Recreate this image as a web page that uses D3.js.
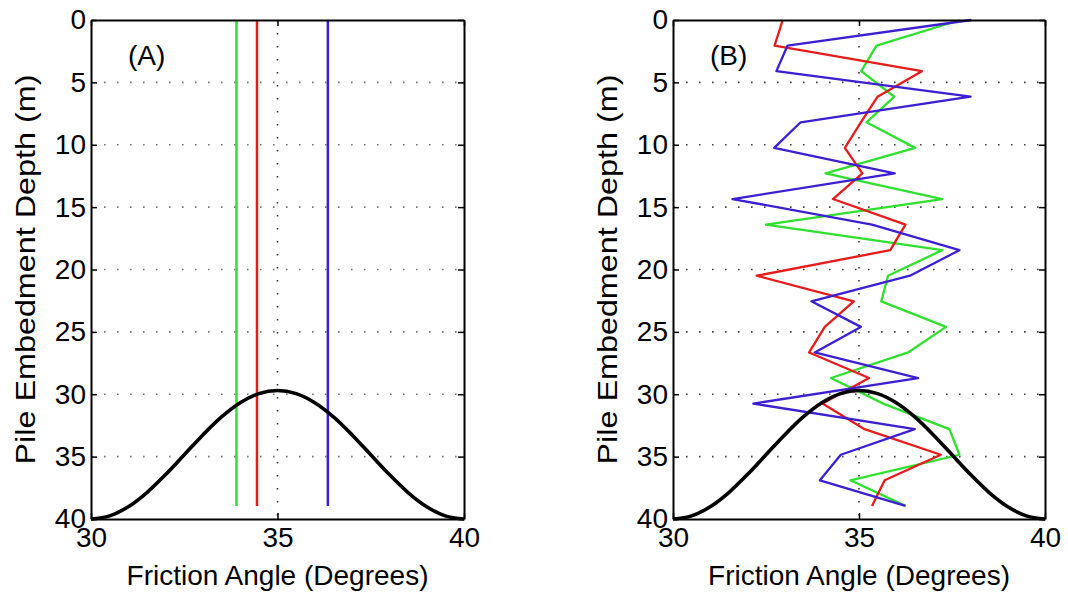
<!DOCTYPE html>
<html>
<head>
<meta charset="utf-8">
<script src="https://cdn.jsdelivr.net/npm/d3@7"></script>
<style>
  html, body { margin: 0; padding: 0; background: #fff; }
  svg { display: block; }
  text { font-family: "Liberation Sans", Arial, Helvetica, sans-serif; fill: #000; }
</style>
</head>
<body>
<svg id="chart" width="1068" height="601"></svg>
<script>
// ---------------- DATA ----------------
const xTicks = [30, 35, 40];
const yTicks = [0, 5, 10, 15, 20, 25, 30, 35, 40];
const xLabel = "Friction Angle (Degrees)";
const yLabel = "Pile Embedment Depth (m)";
const panelLabels = ["(A)", "(B)"];

// Panel A: constant friction angle profiles (vertical lines)
const constDepth = [0, 38.95];
const constGreen = 33.9;
const constRed = 34.45;
const constBlue = 36.35;

// Panel B: random-field profiles
const depthB = [0, 2.05, 4.1, 6.15, 8.2, 10.25, 12.3, 14.35, 16.4, 18.45,
                20.5, 22.55, 24.6, 26.65, 28.7, 30.75, 32.8, 34.85, 36.9, 38.95];
const redB   = [32.95, 32.73, 36.69, 35.5, 35.05, 34.62, 35.09, 34.3, 36.25, 35.84,
                32.25, 34.86, 34.08, 33.66, 35.27, 34.02, 35.15, 37.2, 35.69, 35.35];
const blueB  = [38.02, 33.08, 32.78, 38.0, 33.43, 32.72, 35.96, 31.6, 35.35, 37.7,
                36.37, 33.72, 35.05, 33.81, 36.59, 32.16, 36.5, 34.51, 33.95, 36.25];
const greenB = [37.72, 35.47, 35.06, 35.95, 35.2, 36.51, 34.1, 37.24, 32.5, 37.24,
                35.78, 35.6, 37.34, 36.32, 34.25, 35.65, 37.43, 37.7, 34.77, 36.25];

// Distribution curve (black), angle vs plotted depth
const pdfAngle = [30, 30.5, 31, 31.5, 32, 32.5, 33, 33.5, 34, 34.5, 35,
                  35.5, 36, 36.5, 37, 37.5, 38, 38.5, 39, 39.5, 40];
const pdfDepth = [40, 39.75, 39.02, 37.88, 36.44, 34.85, 33.26, 31.82, 30.68, 29.95, 29.7,
                  29.95, 30.68, 31.82, 33.26, 34.85, 36.44, 37.88, 39.02, 39.75, 40];

// ---------------- STYLE / LAYOUT ----------------
const COLORS = { green: "#2fe02f", red: "#e51c1c", blue: "#3d1fd1" };
const yTop = 20, yBottom = 519;
const panels = [
  { x0: 91, x1: 464, label: panelLabels[0] },
  { x0: 673, x1: 1045, label: panelLabels[1] }
];
const FS = 28;

const svg = d3.select("#chart");

panels.forEach((p, idx) => {
  const x = d3.scaleLinear().domain([30, 40]).range([p.x0, p.x1]);
  const y = d3.scaleLinear().domain([0, 40]).range([yTop, yBottom]);
  const g = svg.append("g");

  // grid
  const gridStroke = idx === 0 ? "#777" : "#444";
  g.append("g").selectAll("line").data(yTicks.filter(t => t > 0 && t < 40)).join("line")
    .attr("x1", p.x0).attr("x2", p.x1)
    .attr("y1", d => y(d)).attr("y2", d => y(d))
    .attr("stroke", gridStroke).attr("stroke-width", 1.6)
    .attr("stroke-dasharray", "1.6,11.4");
  g.append("g").selectAll("line").data(xTicks.filter(t => t > 30 && t < 40)).join("line")
    .attr("x1", d => x(d)).attr("x2", d => x(d))
    .attr("y1", yTop).attr("y2", yBottom)
    .attr("stroke", "#333").attr("stroke-width", 1.6)
    .attr("stroke-dasharray", "1.6,11.4");

  const line = d3.line().x(d => x(d[0])).y(d => y(d[1]));

  if (idx === 0) {
    [[constGreen, COLORS.green], [constRed, COLORS.red], [constBlue, COLORS.blue]].forEach(([v, c]) => {
      g.append("path")
        .attr("d", line(constDepth.map(dd => [v, dd])))
        .attr("fill", "none").attr("stroke", c).attr("stroke-width", 2.5);
    });
  } else {
    [[greenB, COLORS.green], [redB, COLORS.red], [blueB, COLORS.blue]].forEach(([vals, c]) => {
      g.append("path")
        .attr("d", line(vals.map((v, i) => [v, depthB[i]])))
        .attr("fill", "none").attr("stroke", c).attr("stroke-width", 2.3)
        .attr("stroke-linejoin", "round");
    });
  }

  // black distribution curve
  const curve = d3.line().x(d => x(d[0])).y(d => y(d[1])).curve(d3.curveMonotoneX);
  g.append("path")
    .attr("d", curve(pdfAngle.map((a, i) => [a, pdfDepth[i]])))
    .attr("fill", "none").attr("stroke", "#000").attr("stroke-width", 3.6);

  // axes (MATLAB-like inward ticks)
  const axL = g.append("g").attr("transform", `translate(${p.x0},0)`)
    .call(d3.axisLeft(y).tickValues(yTicks).tickSize(-6).tickSizeOuter(0).tickPadding(5));
  const axR = g.append("g").attr("transform", `translate(${p.x1},0)`)
    .call(d3.axisRight(y).tickValues(yTicks).tickSize(-6).tickSizeOuter(0).tickFormat(""));
  const axB = g.append("g").attr("transform", `translate(0,${yBottom})`)
    .call(d3.axisBottom(x).tickValues(xTicks).tickSize(-6).tickSizeOuter(0).tickPadding(8));
  const axT = g.append("g").attr("transform", `translate(0,${yTop})`)
    .call(d3.axisTop(x).tickValues(xTicks).tickSize(-6).tickSizeOuter(0).tickFormat(""));
  [axL, axR, axB, axT].forEach(a => {
    a.attr("font-family", null).attr("font-size", null);
    a.selectAll("path.domain").attr("stroke", "#000").attr("stroke-width", 2);
    a.selectAll(".tick line").attr("stroke", "#000").attr("stroke-width", 1.5);
    a.selectAll("text").style("font-size", FS + "px").attr("fill", "#000");
  });

  // axis titles
  const cx = (p.x0 + p.x1) / 2;
  g.append("text").attr("x", cx).attr("y", 585)
    .attr("text-anchor", "middle").style("font-size", FS + "px").text(xLabel);
  g.append("text")
    .attr("transform", `translate(${p.x0 - 56},${(yTop + yBottom) / 2}) rotate(-90)`)
    .attr("text-anchor", "middle").style("font-size", FS + "px")
    .attr("textLength", 390).attr("lengthAdjust", "spacingAndGlyphs")
    .text(yLabel);

  // panel label
  g.append("text").attr("x", p.x0 + 37).attr("y", 65)
    .style("font-size", FS + "px").text(p.label);
});
</script>
</body>
</html>
